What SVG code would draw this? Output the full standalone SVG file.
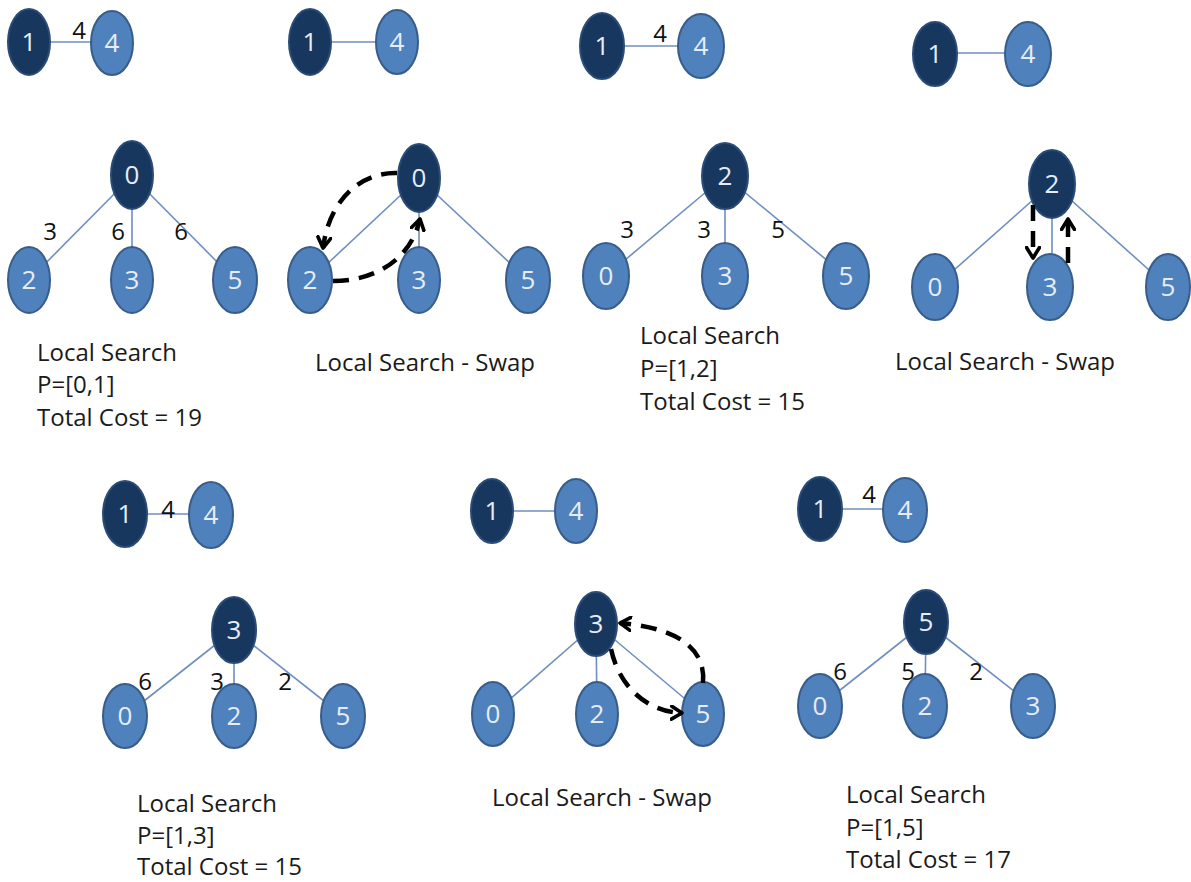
<svg xmlns="http://www.w3.org/2000/svg" width="1191" height="882" viewBox="0 0 1191 882">
  <defs>
    <style>
      .bg { fill: #ffffff; }
      .edge { stroke: #6f8fbf; stroke-width: 1.6; fill: none; }
      .n-dark { fill: #17375e; stroke: #2b4c78; stroke-width: 2; }
      .n-light { fill: #4f81bd; stroke: #385d8a; stroke-width: 2; }
      .nlabel { font-family: "Open Sans", "Noto Sans", sans-serif; font-size: 26px; fill: #e6edf7; text-anchor: middle; }
      .wlabel { font-family: "Open Sans", "Noto Sans", sans-serif; font-size: 24px; fill: #111111; text-anchor: middle; }
      .caption { font-family: "Open Sans", "Noto Sans", sans-serif; font-size: 24px; fill: #1a1a1a; }
      .swap { stroke: #000000; stroke-width: 4.5; fill: none; stroke-dasharray: 16 10; marker-end: url(#chev); }
    </style>
    <marker id="chev" viewBox="0 0 14 16" refX="12" refY="8" markerWidth="14" markerHeight="16" markerUnits="userSpaceOnUse" orient="auto">
      <path d="M1.5,1.5 L12,8 L1.5,14.5" fill="none" stroke="#000000" stroke-width="3.6" stroke-linecap="round" stroke-linejoin="round"/>
    </marker>
  </defs>

  <rect class="bg" x="0" y="0" width="1191" height="882"/>

  <!-- connectors: tree edges and the 1-4 link in every panel -->
  <g id="connectors">
    <!-- panel 1 -->
    <line class="edge" x1="29" y1="42" x2="112" y2="42"/>
    <line class="edge" x1="132" y1="176" x2="29" y2="280"/>
    <line class="edge" x1="132" y1="176" x2="132" y2="280"/>
    <line class="edge" x1="132" y1="176" x2="235" y2="280"/>
    <!-- panel 2 -->
    <line class="edge" x1="310" y1="42" x2="397" y2="42"/>
    <line class="edge" x1="419" y1="178" x2="310" y2="280"/>
    <line class="edge" x1="419" y1="178" x2="419" y2="280"/>
    <line class="edge" x1="419" y1="178" x2="528" y2="280"/>
    <!-- panel 3 -->
    <line class="edge" x1="602" y1="46" x2="701" y2="46"/>
    <line class="edge" x1="725" y1="176" x2="606" y2="276"/>
    <line class="edge" x1="725" y1="176" x2="725" y2="276"/>
    <line class="edge" x1="725" y1="176" x2="846" y2="276"/>
    <!-- panel 4 -->
    <line class="edge" x1="935" y1="53" x2="1028" y2="53"/>
    <line class="edge" x1="1052" y1="183" x2="935" y2="287"/>
    <line class="edge" x1="1052" y1="183" x2="1052" y2="287"/>
    <line class="edge" x1="1052" y1="183" x2="1168" y2="287"/>
    <!-- panel 5 -->
    <line class="edge" x1="125" y1="514" x2="211" y2="514"/>
    <line class="edge" x1="234" y1="630" x2="125" y2="716"/>
    <line class="edge" x1="234" y1="630" x2="234" y2="716"/>
    <line class="edge" x1="234" y1="630" x2="343" y2="716"/>
    <!-- panel 6 -->
    <line class="edge" x1="492" y1="511" x2="576" y2="511"/>
    <line class="edge" x1="596" y1="624" x2="493" y2="714"/>
    <line class="edge" x1="596" y1="624" x2="597" y2="714"/>
    <line class="edge" x1="596" y1="624" x2="703" y2="714"/>
    <!-- panel 7 -->
    <line class="edge" x1="820" y1="509" x2="905" y2="509"/>
    <line class="edge" x1="926" y1="622" x2="820" y2="706"/>
    <line class="edge" x1="926" y1="622" x2="925" y2="706"/>
    <line class="edge" x1="926" y1="622" x2="1033" y2="706"/>
  </g>

  <!-- panel 1 nodes -->
  <g id="p1-n1"><ellipse class="n-dark" cx="29" cy="42" rx="21" ry="33"/><text class="nlabel" x="29" y="51">1</text></g>
  <g id="p1-n4"><ellipse class="n-light" cx="112" cy="43" rx="21" ry="32"/><text class="nlabel" x="112" y="52">4</text></g>
  <g id="p1-n0"><ellipse class="n-dark" cx="132" cy="175" rx="21" ry="34"/><text class="nlabel" x="132" y="184">0</text></g>
  <g id="p1-n2"><ellipse class="n-light" cx="29" cy="280" rx="21" ry="33"/><text class="nlabel" x="29" y="289">2</text></g>
  <g id="p1-n3"><ellipse class="n-light" cx="132" cy="280" rx="21" ry="33"/><text class="nlabel" x="132" y="289">3</text></g>
  <g id="p1-n5"><ellipse class="n-light" cx="235" cy="280" rx="22" ry="33"/><text class="nlabel" x="235" y="289">5</text></g>

  <!-- panel 2 nodes -->
  <g id="p2-n1"><ellipse class="n-dark" cx="310" cy="42" rx="21" ry="33"/><text class="nlabel" x="310" y="51">1</text></g>
  <g id="p2-n4"><ellipse class="n-light" cx="397" cy="42" rx="21" ry="32"/><text class="nlabel" x="397" y="51">4</text></g>
  <g id="p2-n0"><ellipse class="n-dark" cx="419" cy="178" rx="21" ry="34"/><text class="nlabel" x="419" y="187">0</text></g>
  <g id="p2-n2"><ellipse class="n-light" cx="310" cy="280" rx="22" ry="33"/><text class="nlabel" x="310" y="289">2</text></g>
  <g id="p2-n3"><ellipse class="n-light" cx="419" cy="280" rx="21" ry="33"/><text class="nlabel" x="419" y="289">3</text></g>
  <g id="p2-n5"><ellipse class="n-light" cx="528" cy="280" rx="22" ry="33"/><text class="nlabel" x="528" y="289">5</text></g>

  <!-- panel 3 nodes -->
  <g id="p3-n1"><ellipse class="n-dark" cx="602" cy="46" rx="22" ry="33"/><text class="nlabel" x="602" y="55">1</text></g>
  <g id="p3-n4"><ellipse class="n-light" cx="701" cy="46" rx="23" ry="32"/><text class="nlabel" x="701" y="55">4</text></g>
  <g id="p3-n2"><ellipse class="n-dark" cx="725" cy="176" rx="23" ry="33"/><text class="nlabel" x="725" y="185">2</text></g>
  <g id="p3-n0"><ellipse class="n-light" cx="606" cy="276" rx="23" ry="33"/><text class="nlabel" x="606" y="285">0</text></g>
  <g id="p3-n3"><ellipse class="n-light" cx="725" cy="276" rx="23" ry="33"/><text class="nlabel" x="725" y="285">3</text></g>
  <g id="p3-n5"><ellipse class="n-light" cx="846" cy="276" rx="23" ry="33"/><text class="nlabel" x="846" y="285">5</text></g>

  <!-- panel 4 nodes -->
  <g id="p4-n1"><ellipse class="n-dark" cx="935" cy="54" rx="22" ry="32"/><text class="nlabel" x="935" y="63">1</text></g>
  <g id="p4-n4"><ellipse class="n-light" cx="1028" cy="54" rx="23" ry="32"/><text class="nlabel" x="1028" y="63">4</text></g>
  <g id="p4-n2"><ellipse class="n-dark" cx="1052" cy="184" rx="23" ry="34"/><text class="nlabel" x="1052" y="193">2</text></g>
  <g id="p4-n0"><ellipse class="n-light" cx="935" cy="287" rx="23" ry="33"/><text class="nlabel" x="935" y="296">0</text></g>
  <g id="p4-n3"><ellipse class="n-light" cx="1050" cy="287" rx="23" ry="33"/><text class="nlabel" x="1050" y="296">3</text></g>
  <g id="p4-n5"><ellipse class="n-light" cx="1168" cy="287" rx="22" ry="33"/><text class="nlabel" x="1168" y="296">5</text></g>

  <!-- panel 5 nodes -->
  <g id="p5-n1"><ellipse class="n-dark" cx="125" cy="514" rx="22" ry="33"/><text class="nlabel" x="125" y="523">1</text></g>
  <g id="p5-n4"><ellipse class="n-light" cx="211" cy="515" rx="22" ry="33"/><text class="nlabel" x="211" y="524">4</text></g>
  <g id="p5-n3"><ellipse class="n-dark" cx="234" cy="630" rx="22" ry="33"/><text class="nlabel" x="234" y="639">3</text></g>
  <g id="p5-n0"><ellipse class="n-light" cx="125" cy="716" rx="22" ry="32"/><text class="nlabel" x="125" y="725">0</text></g>
  <g id="p5-n2"><ellipse class="n-light" cx="234" cy="716" rx="22" ry="32"/><text class="nlabel" x="234" y="725">2</text></g>
  <g id="p5-n5"><ellipse class="n-light" cx="343" cy="716" rx="22" ry="32"/><text class="nlabel" x="343" y="725">5</text></g>

  <!-- panel 6 nodes -->
  <g id="p6-n1"><ellipse class="n-dark" cx="492" cy="511" rx="21" ry="32"/><text class="nlabel" x="492" y="520">1</text></g>
  <g id="p6-n4"><ellipse class="n-light" cx="576" cy="511" rx="21" ry="32"/><text class="nlabel" x="576" y="520">4</text></g>
  <g id="p6-n3"><ellipse class="n-dark" cx="596" cy="624" rx="21" ry="32"/><text class="nlabel" x="596" y="633">3</text></g>
  <g id="p6-n0"><ellipse class="n-light" cx="493" cy="714" rx="21" ry="32"/><text class="nlabel" x="493" y="723">0</text></g>
  <g id="p6-n2"><ellipse class="n-light" cx="597" cy="714" rx="21" ry="32"/><text class="nlabel" x="597" y="723">2</text></g>
  <g id="p6-n5"><ellipse class="n-light" cx="703" cy="714" rx="21" ry="32"/><text class="nlabel" x="703" y="723">5</text></g>

  <!-- panel 7 nodes -->
  <g id="p7-n1"><ellipse class="n-dark" cx="820" cy="509" rx="22" ry="32"/><text class="nlabel" x="820" y="518">1</text></g>
  <g id="p7-n4"><ellipse class="n-light" cx="905" cy="510" rx="22" ry="32"/><text class="nlabel" x="905" y="519">4</text></g>
  <g id="p7-n5"><ellipse class="n-dark" cx="926" cy="622" rx="22" ry="32"/><text class="nlabel" x="926" y="631">5</text></g>
  <g id="p7-n0"><ellipse class="n-light" cx="820" cy="706" rx="22" ry="32"/><text class="nlabel" x="820" y="715">0</text></g>
  <g id="p7-n2"><ellipse class="n-light" cx="925" cy="706" rx="22" ry="32"/><text class="nlabel" x="925" y="715">2</text></g>
  <g id="p7-n3"><ellipse class="n-light" cx="1033" cy="706" rx="22" ry="32"/><text class="nlabel" x="1033" y="715">3</text></g>

  <!-- edge weights -->
  <g id="weights">
    <text class="wlabel" x="79" y="39">4</text>
    <text class="wlabel" x="50" y="240">3</text>
    <text class="wlabel" x="118" y="240">6</text>
    <text class="wlabel" x="181" y="240">6</text>

    <text class="wlabel" x="660" y="42">4</text>
    <text class="wlabel" x="627" y="238">3</text>
    <text class="wlabel" x="704" y="238">3</text>
    <text class="wlabel" x="778" y="238">5</text>

    <text class="wlabel" x="168" y="518">4</text>
    <text class="wlabel" x="145" y="690">6</text>
    <text class="wlabel" x="217" y="690">3</text>
    <text class="wlabel" x="285" y="690">2</text>

    <text class="wlabel" x="869" y="503">4</text>
    <text class="wlabel" x="840" y="680">6</text>
    <text class="wlabel" x="908" y="680">5</text>
    <text class="wlabel" x="976" y="680">2</text>
  </g>

  <!-- dashed swap moves -->
  <g id="swap-moves">
    <path class="swap" d="M397,173 C365,172 330,195 323,248"/>
    <path class="swap" d="M333,281 C372,281 410,262 420,219"/>
    <path class="swap" d="M1033,205 L1033,258"/>
    <path class="swap" d="M1068,263 L1068,219"/>
    <path class="swap" d="M703,683 C706,650 680,628 620,623"/>
    <path class="swap" d="M611,649 C620,690 650,712 682,713"/>
  </g>

  <!-- captions -->
  <g id="captions">
    <text class="caption" x="37" y="361">Local Search</text>
    <text class="caption" x="37" y="393">P=[0,1]</text>
    <text class="caption" x="37" y="426">Total Cost = 19</text>

    <text class="caption" x="315" y="371">Local Search - Swap</text>

    <text class="caption" x="640" y="344">Local Search</text>
    <text class="caption" x="640" y="377">P=[1,2]</text>
    <text class="caption" x="640" y="410">Total Cost = 15</text>

    <text class="caption" x="895" y="370">Local Search - Swap</text>

    <text class="caption" x="137" y="812">Local Search</text>
    <text class="caption" x="137" y="844">P=[1,3]</text>
    <text class="caption" x="137" y="875">Total Cost = 15</text>

    <text class="caption" x="492" y="806">Local Search - Swap</text>

    <text class="caption" x="846" y="803">Local Search</text>
    <text class="caption" x="846" y="836">P=[1,5]</text>
    <text class="caption" x="846" y="868">Total Cost = 17</text>
  </g>
</svg>
